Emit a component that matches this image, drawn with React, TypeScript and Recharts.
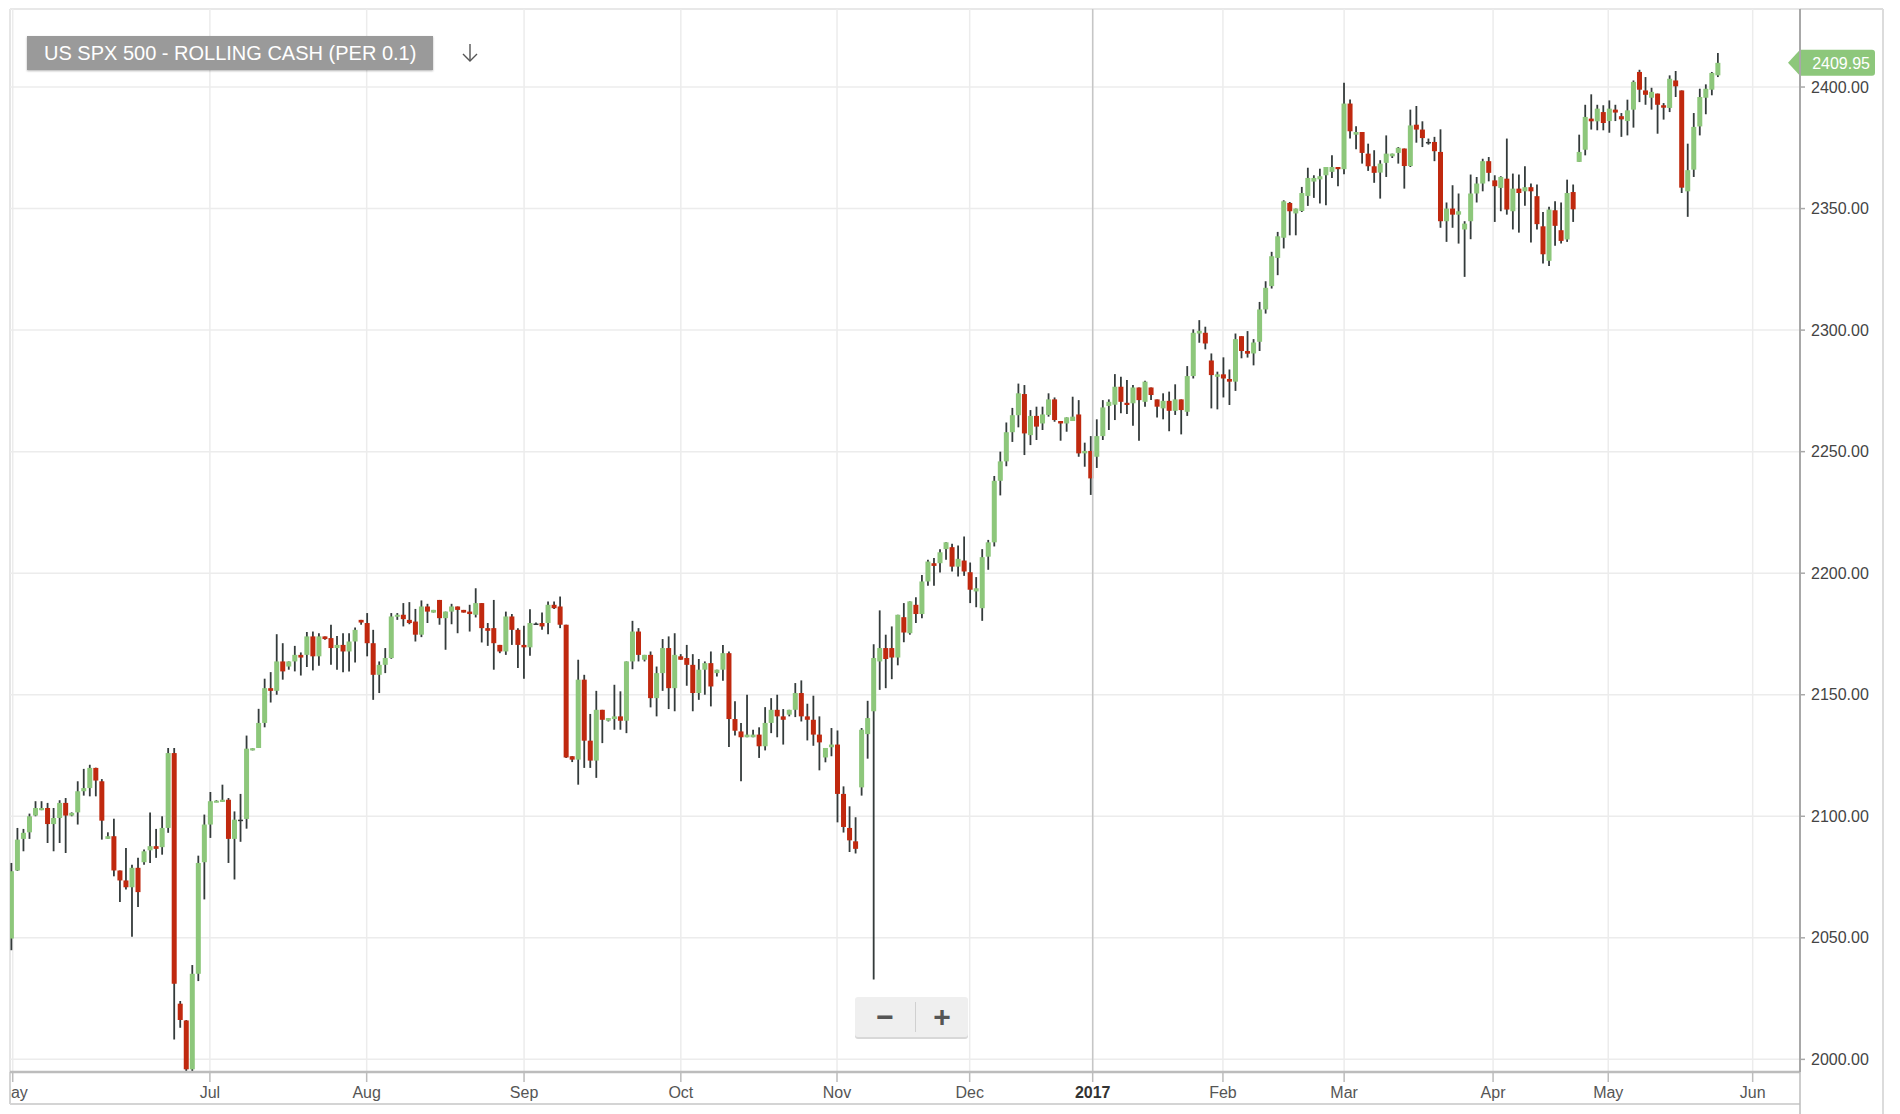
import { ComposedChart, Bar, XAxis, YAxis, CartesianGrid, ReferenceLine } from 'recharts'

const title = 'US SPX 500 - ROLLING CASH (PER 0.1)'

const opens = [
  2049.7, 2077.7, 2090.7, 2093.4, 2100.3, 2102.5, 2103.4, 2096.8, 2099.3, 2105.5,
  2100.3, 2101.6, 2110.3, 2111.6, 2119.9, 2114.4, 2090.7, 2091.8, 2077.7, 2073.6,
  2070.8, 2078.8, 2081.1, 2086.0, 2087.7, 2087.3, 2095.2, 2126.0, 2022.9, 2016.0,
  1995.9, 2035.2, 2081.1, 2096.6, 2105.9, 2105.9, 2106.8, 2090.7, 2098.6, 2098.9,
  2127.1, 2128.1, 2138.4, 2152.7, 2151.6, 2163.7, 2161.6, 2163.7, 2166.4, 2166.4,
  2174.0, 2165.8, 2174.0, 2173.3, 2169.2, 2170.5, 2167.8, 2171.9, 2180.8, 2179.5,
  2171.2, 2158.2, 2162.3, 2165.1, 2182.2, 2182.9, 2180.8, 2180.1, 2174.7, 2186.3,
  2183.8, 2189.0, 2181.5, 2184.2, 2186.3, 2184.9, 2184.2, 2182.9, 2187.7, 2177.4,
  2177.4, 2170.5, 2167.8, 2182.2, 2176.7, 2170.5, 2169.5, 2179.3, 2179.5, 2179.5,
  2187.0, 2186.3, 2178.8, 2124.7, 2123.3, 2156.2, 2131.1, 2122.9, 2143.8, 2139.3,
  2140.0, 2141.1, 2139.3, 2163.7, 2176.0, 2164.4, 2166.4, 2148.6, 2158.9, 2169.2,
  2152.7, 2165.8, 2165.1, 2162.3, 2150.7, 2160.3, 2163.0, 2158.9, 2160.3, 2167.1,
  2140.0, 2134.9, 2132.5, 2132.5, 2133.6, 2128.8, 2138.4, 2143.8, 2141.1, 2141.8,
  2143.8, 2150.7, 2141.1, 2139.7, 2133.6, 2124.2, 2128.4, 2129.5, 2109.2, 2095.2,
  2089.7, 2111.9, 2133.8, 2143.2, 2163.7, 2169.2, 2169.2, 2165.3, 2181.9, 2175.3,
  2187.0, 2183.2, 2196.6, 2204.1, 2204.1, 2209.9, 2210.7, 2202.7, 2205.2, 2200.4,
  2192.5, 2185.6, 2206.8, 2212.7, 2238.0, 2246.0, 2258.0, 2265.0, 2273.7, 2256.8,
  2264.7, 2261.6, 2265.1, 2271.5, 2262.6, 2261.6, 2262.6, 2265.3, 2249.3, 2250.3,
  2247.9, 2256.4, 2268.8, 2269.3, 2276.7, 2270.1, 2269.9, 2276.4, 2270.5, 2276.4,
  2271.5, 2267.8, 2270.9, 2266.8, 2271.5, 2266.4, 2281.1, 2298.6, 2298.9, 2287.5,
  2280.8, 2281.8, 2279.9, 2278.8, 2297.5, 2291.4, 2290.4, 2295.2, 2308.5, 2318.1,
  2329.7, 2338.0, 2352.3, 2348.0, 2349.0, 2355.2, 2361.1, 2362.0, 2363.7, 2365.1,
  2367.1, 2366.2, 2393.2, 2380.4, 2381.5, 2372.6, 2367.4, 2364.8, 2368.8, 2371.5,
  2372.9, 2374.7, 2367.5, 2384.5, 2382.5, 2377.4, 2377.4, 2373.3, 2344.8, 2350.0,
  2347.5, 2341.4, 2344.8, 2356.2, 2360.3, 2369.5, 2361.6, 2358.5, 2362.3, 2348.9,
  2358.2, 2357.1, 2358.8, 2355.1, 2342.7, 2328.5, 2349.3, 2341.1, 2337.3, 2356.8,
  2369.2, 2374.2, 2387.0, 2385.9, 2389.7, 2386.0, 2390.7, 2388.0, 2386.0, 2390.7,
  2406.2, 2398.6, 2395.6, 2397.3, 2392.5, 2391.4, 2402.7, 2398.6, 2357.1, 2366.0,
  2383.8, 2395.6, 2398.9, 2404.8,
]

const highs = [
  2080.8, 2095.2, 2094.8, 2101.1, 2106.2, 2106.2, 2105.5, 2103.4, 2106.6, 2107.5,
  2101.6, 2114.4, 2119.5, 2121.2, 2120.0, 2115.3, 2093.4, 2099.0, 2077.7, 2087.0,
  2080.1, 2082.9, 2086.3, 2101.6, 2094.8, 2100.0, 2128.1, 2128.1, 2024.0, 2016.2,
  2038.8, 2083.8, 2100.7, 2110.0, 2106.6, 2113.0, 2107.5, 2102.0, 2109.2, 2133.2,
  2128.0, 2144.2, 2156.6, 2159.3, 2174.9, 2171.2, 2163.7, 2170.1, 2167.4, 2175.8,
  2176.0, 2175.3, 2174.0, 2178.8, 2174.2, 2175.3, 2175.3, 2177.7, 2180.8, 2183.6,
  2176.7, 2163.7, 2169.2, 2183.6, 2183.6, 2187.7, 2188.1, 2185.3, 2188.8, 2187.4,
  2184.9, 2189.0, 2184.2, 2187.4, 2186.3, 2184.9, 2187.0, 2193.8, 2187.7, 2179.5,
  2189.0, 2170.5, 2184.2, 2183.2, 2177.4, 2178.4, 2185.2, 2179.7, 2183.8, 2188.4,
  2188.4, 2190.4, 2178.8, 2124.7, 2164.4, 2158.2, 2142.1, 2151.6, 2143.8, 2140.4,
  2154.1, 2151.4, 2163.7, 2180.4, 2177.4, 2166.4, 2167.8, 2161.6, 2172.9, 2174.0,
  2175.3, 2166.7, 2170.5, 2166.7, 2164.7, 2163.7, 2167.8, 2160.3, 2170.5, 2167.8,
  2147.3, 2138.4, 2150.0, 2135.6, 2136.6, 2144.9, 2148.6, 2150.0, 2144.1, 2143.8,
  2154.8, 2155.9, 2146.3, 2149.6, 2141.1, 2128.1, 2136.3, 2135.3, 2112.3, 2104.1,
  2099.6, 2136.3, 2147.5, 2170.8, 2184.7, 2174.7, 2178.1, 2182.9, 2187.7, 2188.4,
  2190.1, 2199.3, 2205.5, 2206.2, 2209.9, 2212.7, 2212.1, 2211.4, 2215.1, 2204.4,
  2198.4, 2209.9, 2213.7, 2240.0, 2250.0, 2262.0, 2268.0, 2278.0, 2277.4, 2267.1,
  2268.5, 2268.5, 2274.0, 2272.3, 2262.6, 2264.1, 2272.6, 2271.2, 2253.7, 2256.4,
  2263.3, 2271.2, 2271.5, 2281.9, 2280.8, 2279.5, 2277.4, 2276.4, 2279.2, 2276.4,
  2271.5, 2274.0, 2274.7, 2277.7, 2271.5, 2285.2, 2300.3, 2304.1, 2301.4, 2290.4,
  2282.9, 2288.8, 2283.8, 2298.6, 2297.5, 2299.6, 2296.3, 2311.6, 2320.1, 2332.2,
  2340.4, 2353.4, 2352.7, 2350.0, 2358.9, 2366.8, 2363.7, 2366.4, 2367.1, 2371.9,
  2367.1, 2401.8, 2394.9, 2383.9, 2381.5, 2376.7, 2374.0, 2369.9, 2380.1, 2372.6,
  2375.3, 2374.7, 2390.7, 2392.2, 2385.9, 2378.8, 2379.5, 2382.6, 2352.5, 2359.6,
  2356.2, 2344.8, 2364.0, 2363.0, 2370.5, 2371.2, 2363.7, 2363.3, 2378.8, 2364.4,
  2364.0, 2367.4, 2360.3, 2359.9, 2348.6, 2350.7, 2353.0, 2352.5, 2361.9, 2359.9,
  2380.4, 2392.7, 2397.0, 2392.7, 2392.5, 2394.5, 2392.7, 2389.3, 2394.8, 2402.7,
  2407.1, 2404.1, 2399.7, 2397.3, 2393.4, 2404.8, 2406.6, 2398.6, 2376.7, 2389.3,
  2399.3, 2401.1, 2406.2, 2414.0,
]

const lows = [
  2044.9, 2077.5, 2085.6, 2090.7, 2100.0, 2102.5, 2089.0, 2085.6, 2089.0, 2084.9,
  2100.0, 2096.6, 2108.5, 2108.2, 2108.2, 2090.4, 2090.7, 2075.3, 2064.7, 2069.9,
  2050.4, 2062.7, 2080.1, 2080.8, 2082.9, 2084.2, 2093.2, 2008.2, 2013.0, 1991.0,
  1991.0, 2032.2, 2065.8, 2091.1, 2105.8, 2105.9, 2080.8, 2074.0, 2089.5, 2094.9,
  2127.1, 2128.1, 2136.6, 2146.8, 2150.0, 2156.2, 2160.3, 2159.6, 2157.9, 2161.4,
  2160.0, 2161.9, 2172.6, 2162.3, 2160.3, 2159.2, 2159.6, 2163.3, 2178.8, 2165.8,
  2147.9, 2150.7, 2158.9, 2164.8, 2180.8, 2178.1, 2179.0, 2171.9, 2173.7, 2179.5,
  2183.8, 2178.8, 2168.5, 2179.0, 2175.3, 2183.8, 2176.0, 2181.8, 2171.5, 2170.1,
  2160.3, 2167.1, 2166.4, 2170.5, 2161.0, 2156.6, 2166.0, 2179.0, 2176.7, 2174.9,
  2185.3, 2177.4, 2124.0, 2122.3, 2113.0, 2119.9, 2119.9, 2115.8, 2130.1, 2139.0,
  2135.6, 2135.6, 2134.2, 2160.5, 2163.7, 2163.7, 2144.8, 2141.1, 2151.6, 2144.1,
  2143.2, 2164.4, 2153.7, 2143.2, 2147.9, 2150.0, 2145.2, 2157.5, 2155.8, 2128.5,
  2133.2, 2114.4, 2132.5, 2132.5, 2124.0, 2127.1, 2134.2, 2132.5, 2129.5, 2141.1,
  2140.8, 2139.0, 2131.2, 2129.0, 2118.9, 2122.2, 2124.7, 2097.5, 2093.3, 2085.3,
  2084.7, 2108.5, 2123.7, 2032.9, 2152.0, 2152.7, 2156.4, 2162.1, 2171.6, 2174.7,
  2179.5, 2181.5, 2194.8, 2194.8, 2200.3, 2205.5, 2200.7, 2198.6, 2198.9, 2187.7,
  2186.0, 2180.4, 2201.4, 2211.0, 2232.0, 2244.0, 2254.0, 2260.0, 2248.6, 2252.7,
  2254.8, 2258.9, 2264.4, 2262.3, 2254.5, 2258.2, 2262.6, 2247.9, 2243.8, 2232.2,
  2243.3, 2254.8, 2258.9, 2263.0, 2265.8, 2265.5, 2260.7, 2254.5, 2268.5, 2271.2,
  2264.1, 2263.3, 2258.4, 2265.1, 2257.1, 2264.7, 2280.1, 2294.8, 2292.1, 2267.8,
  2267.4, 2272.3, 2269.2, 2275.0, 2288.4, 2288.7, 2285.5, 2291.4, 2306.8, 2317.1,
  2322.6, 2333.6, 2339.0, 2339.0, 2348.6, 2351.1, 2354.4, 2352.1, 2351.4, 2362.6,
  2359.2, 2364.1, 2378.8, 2374.4, 2368.5, 2365.5, 2360.6, 2354.1, 2363.0, 2370.8,
  2368.5, 2358.2, 2367.1, 2377.1, 2375.3, 2376.3, 2369.5, 2342.1, 2336.3, 2342.1,
  2335.6, 2321.9, 2337.4, 2352.5, 2357.1, 2361.2, 2344.5, 2348.9, 2347.5, 2341.4,
  2340.1, 2351.2, 2336.0, 2341.4, 2327.4, 2326.4, 2334.7, 2335.6, 2336.3, 2344.5,
  2369.2, 2371.9, 2382.5, 2382.2, 2382.2, 2381.2, 2386.0, 2379.5, 2380.1, 2383.3,
  2393.8, 2392.7, 2390.7, 2380.8, 2386.6, 2389.7, 2395.9, 2356.4, 2346.6, 2363.0,
  2380.1, 2388.8, 2396.6, 2404.1,
]

const closes = [
  2077.4, 2090.4, 2093.2, 2100.0, 2103.4, 2103.4, 2096.8, 2099.3, 2105.5, 2100.3,
  2101.4, 2110.3, 2111.6, 2119.9, 2114.7, 2098.2, 2091.8, 2077.7, 2073.6, 2070.8,
  2078.8, 2068.8, 2085.6, 2087.7, 2086.6, 2095.2, 2126.0, 2031.1, 2016.2, 1995.9,
  2035.2, 2080.8, 2096.6, 2106.2, 2106.4, 2106.8, 2090.7, 2098.6, 2098.6, 2127.8,
  2128.0, 2138.4, 2152.7, 2151.6, 2163.7, 2159.6, 2163.7, 2166.4, 2165.3, 2174.0,
  2165.8, 2174.0, 2172.9, 2169.2, 2170.5, 2167.8, 2171.9, 2176.7, 2179.7, 2171.2,
  2158.2, 2162.3, 2165.1, 2182.2, 2182.9, 2181.1, 2179.5, 2174.7, 2186.3, 2184.2,
  2184.9, 2181.5, 2184.2, 2186.3, 2184.9, 2183.8, 2183.2, 2187.7, 2177.4, 2176.3,
  2171.2, 2167.8, 2182.2, 2176.7, 2170.5, 2169.5, 2179.5, 2179.3, 2178.1, 2187.0,
  2185.6, 2178.8, 2124.2, 2123.3, 2156.2, 2131.1, 2122.9, 2143.8, 2139.7, 2140.4,
  2141.1, 2139.3, 2163.7, 2176.0, 2166.4, 2166.4, 2148.6, 2158.9, 2169.2, 2152.7,
  2166.4, 2164.4, 2162.3, 2150.7, 2160.3, 2163.0, 2153.4, 2160.3, 2167.1, 2140.0,
  2135.2, 2132.5, 2133.6, 2133.6, 2128.8, 2138.4, 2143.8, 2141.1, 2139.7, 2143.8,
  2150.7, 2141.1, 2139.7, 2133.6, 2130.4, 2128.1, 2129.5, 2109.2, 2095.6, 2090.1,
  2086.6, 2135.6, 2140.4, 2165.1, 2169.2, 2164.7, 2165.3, 2182.9, 2175.6, 2188.4,
  2183.2, 2196.6, 2204.8, 2203.0, 2208.6, 2212.7, 2202.7, 2205.9, 2200.7, 2193.2,
  2193.8, 2206.6, 2212.7, 2238.0, 2246.0, 2258.0, 2265.0, 2274.0, 2257.5, 2264.7,
  2260.3, 2265.3, 2271.5, 2263.0, 2261.6, 2264.1, 2264.4, 2249.3, 2250.3, 2239.0,
  2256.4, 2268.2, 2270.5, 2276.7, 2270.5, 2269.2, 2276.4, 2271.2, 2278.8, 2273.3,
  2268.5, 2270.9, 2266.8, 2271.5, 2267.1, 2281.1, 2298.9, 2299.7, 2294.5, 2281.5,
  2281.8, 2280.1, 2278.8, 2296.3, 2291.4, 2290.3, 2294.9, 2308.5, 2317.4, 2330.4,
  2338.6, 2353.0, 2348.9, 2350.0, 2356.4, 2362.6, 2362.6, 2363.3, 2367.1, 2367.1,
  2366.2, 2393.2, 2381.8, 2381.5, 2372.9, 2367.4, 2364.7, 2368.5, 2372.6, 2372.6,
  2375.0, 2367.5, 2384.2, 2382.5, 2379.0, 2377.4, 2373.6, 2344.8, 2350.0, 2347.5,
  2348.9, 2343.8, 2356.2, 2360.3, 2369.5, 2364.7, 2359.2, 2363.0, 2349.6, 2358.2,
  2356.4, 2358.8, 2357.1, 2343.6, 2331.2, 2349.6, 2342.9, 2336.7, 2356.4, 2349.7,
  2373.3, 2387.7, 2385.9, 2391.1, 2385.2, 2391.1, 2389.5, 2386.7, 2390.4, 2402.1,
  2398.9, 2396.8, 2398.0, 2392.7, 2391.5, 2403.4, 2400.3, 2358.6, 2365.8, 2383.6,
  2395.9, 2399.3, 2405.8, 2409.95,
]

// month boundaries, in candle-index units
const monthTicks = [0.3, 33, 59, 85.1, 111.1, 137, 159, 179.4, 201, 221.1, 245.8, 264.9, 288.85]
const monthLabels = ['May', 'Jul', 'Aug', 'Sep', 'Oct', 'Nov', 'Dec', '2017', 'Feb', 'Mar', 'Apr', 'May', 'Jun']
const yearTick = 179.4

const priceTicks = [2000, 2050, 2100, 2150, 2200, 2250, 2300, 2350, 2400]

const GREEN = '#8dc77b'
const RED = '#c0290f'
const WICK = '#343b3b'
const FONT = '"Liberation Sans", Arial, Helvetica, sans-serif'

const data = opens.map((o, i) => ({ i, o, h: highs[i], l: lows[i], c: closes[i] }))
const lastClose = closes[closes.length - 1]

const Candle = (props: any) => {
  const { x, y, width, height, payload } = props
  if (!payload || x == null) return null
  const { o, h, l, c } = payload
  const top = Math.min(y, y + height)
  const hgt = Math.abs(height)
  const span = h - l || 1
  const yOf = (v: number) => top + ((h - v) / span) * hgt
  const cx = x + width / 2
  const yo = yOf(o)
  const yc = yOf(c)
  const doji = Math.abs(o - c) < 0.3
  const fill = doji ? WICK : c > o ? GREEN : RED
  const bh = Math.max(Math.abs(yc - yo), doji ? 1.5 : 2)
  return (
    <g>
      <line x1={cx} x2={cx} y1={top} y2={top + hgt} stroke={WICK} strokeWidth={1.8} />
      <rect x={x} y={Math.min(yo, yc)} width={width} height={bh} fill={fill} />
    </g>
  )
}

const MonthTick = (props: any) => {
  const { x, y, payload } = props
  const idx = monthTicks.indexOf(payload.value)
  const label = monthLabels[idx] ?? ''
  const bold = payload.value === yearTick
  return (
    <g>
      {idx === 0 && (
        <defs>
          <clipPath id="xlabel-clip">
            <rect x={10} y={0} width={1900} height={1114} />
          </clipPath>
        </defs>
      )}
      <text
        x={x}
        y={y}
        dy="0.71em"
        textAnchor="middle"
        fontSize={16}
        fontFamily={FONT}
        fontWeight={bold ? 700 : 400}
        fill={bold ? '#333' : '#555'}
        clipPath={idx === 0 ? 'url(#xlabel-clip)' : undefined}
      >
        {label}
      </text>
    </g>
  )
}

const PriceTag = (props: any) => {
  const vb = props.viewBox || {}
  const yy = (vb.y ?? 0) + (vb.height ?? 0) / 2
  const right = (vb.x ?? 0) + (vb.width ?? 0)
  const l = right - 12
  const r = right + 75
  return (
    <g>
      <path
        d={`M${l},${yy} L${right},${yy - 13} H${r - 3} Q${r},${yy - 13} ${r},${yy - 10} V${yy + 10} Q${r},${yy + 13} ${r - 3},${yy + 13} H${right} Z`}
        fill={GREEN}
      />
      <text x={r - 5} y={yy} dy="0.36em" textAnchor="end" fontSize={16} fontFamily={FONT} fill="#fff">
        {lastClose.toFixed(2)}
      </text>
    </g>
  )
}

export default function App() {
  return (
    <div style={{ position: 'absolute', left: 0, top: 0, width: 1900, height: 1114, background: '#fff', fontFamily: FONT }}>
      <svg width={1900} height={1114} style={{ position: 'absolute', left: 0, top: 0 }}>
        <line x1={10} x2={1883} y1={9} y2={9} stroke="#dcdcdc" strokeWidth={2} />
        <line x1={1883} x2={1883} y1={9} y2={1114} stroke="#dcdcdc" strokeWidth={2} />
        <line x1={10} x2={10} y1={9} y2={1104} stroke="#d4d4d4" strokeWidth={2} />
        <line x1={10} x2={1800} y1={1104} y2={1104} stroke="#d4d4d4" strokeWidth={2} />
        <line x1={1800} x2={1800} y1={1072} y2={1114} stroke="#bdbdbd" strokeWidth={1.5} />
      </svg>
      <div style={{ position: 'absolute', left: 0, top: 0 }}>
        <ComposedChart width={1900} height={1114} data={data} margin={{ top: 9, right: 0, bottom: 0, left: 10 }}>
          <CartesianGrid stroke="#ececec" strokeWidth={1.5} />
          <XAxis
            type="number"
            dataKey="i"
            domain={[-0.15, 296.7]}
            allowDataOverflow
            ticks={monthTicks}
            interval={0}
            height={42}
            tickSize={10}
            tickMargin={5}
            axisLine={{ stroke: '#bcbcbc', strokeWidth: 2.5 }}
            tickLine={{ stroke: '#bcbcbc', strokeWidth: 1.5 }}
            tick={<MonthTick />}
          />
          <YAxis
            orientation="right"
            width={100}
            domain={[1994.8, 2432.1]}
            allowDataOverflow
            ticks={priceTicks}
            interval={0}
            tickSize={5}
            tickMargin={6}
            axisLine={{ stroke: '#a8a8a8', strokeWidth: 2 }}
            tickLine={{ stroke: '#a8a8a8', strokeWidth: 1.5 }}
            tick={{ fontSize: 16, fill: '#444', fontFamily: FONT }}
            tickFormatter={(v: number) => v.toFixed(2)}
          />
          <ReferenceLine x={yearTick} stroke="#c6c6c6" strokeWidth={1.5} />
          <Bar
            dataKey={(d: any) => [d.l, d.h]}
            barSize={5}
            shape={<Candle />}
            isAnimationActive={false}
          />
          <ReferenceLine y={lastClose} stroke="none" label={(p: any) => <PriceTag {...p} />} />
        </ComposedChart>
      </div>
      <div
        style={{
          position: 'absolute',
          left: 27,
          top: 36,
          height: 34,
          lineHeight: '34px',
          padding: '0 17px',
          background: '#9a9a9a',
          color: '#fff',
          fontSize: 20,
          boxShadow: '0 1px 2px rgba(0,0,0,0.3)',
          whiteSpace: 'nowrap',
        }}
      >
        {title}
      </div>
      <svg width={18} height={20} style={{ position: 'absolute', left: 461, top: 43 }}>
        <line x1={9} y1={1} x2={9} y2={18} stroke="#555" strokeWidth={1.4} />
        <polyline points="2,11 9,18 16,11" fill="none" stroke="#555" strokeWidth={1.4} />
      </svg>
      <div
        style={{
          position: 'absolute',
          left: 855,
          top: 997,
          width: 113,
          height: 40,
          background: '#efefef',
          borderRadius: 3,
          boxShadow: '0 2px 0 #d8d8d8',
          display: 'flex',
          alignItems: 'center',
          color: '#555',
          fontWeight: 700,
          fontSize: 30,
        }}
      >
        <span style={{ width: 60, textAlign: 'center', lineHeight: '40px' }}>−</span>
        <span style={{ width: 1, height: 30, background: '#d0d0d0' }} />
        <span style={{ width: 52, textAlign: 'center', lineHeight: '40px' }}>+</span>
      </div>
    </div>
  )
}
